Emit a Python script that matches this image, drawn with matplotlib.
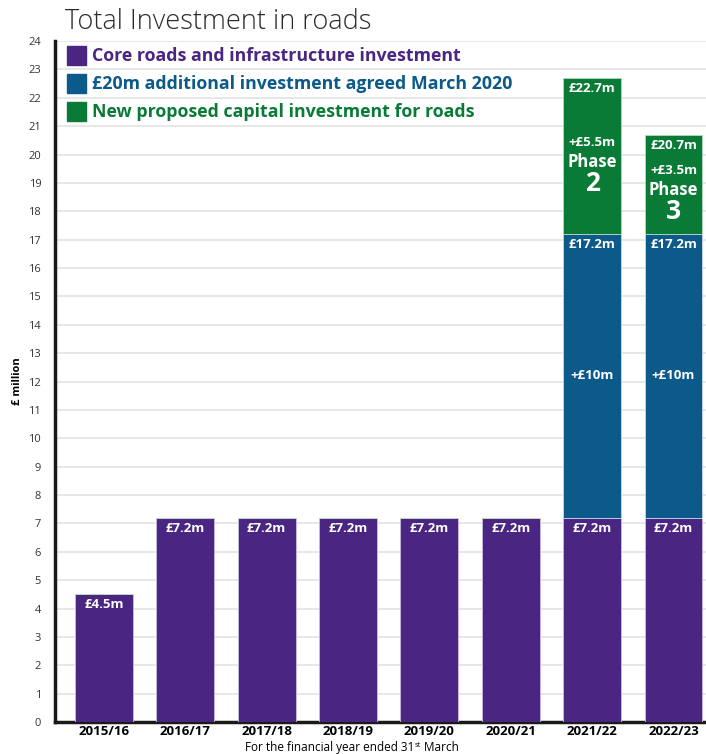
import matplotlib.pyplot as plt
import numpy as np

# Data
years = ["2015/16", "2016/17", "2017/18", "2018/19", "2019/20", "2020/21", "2021/22", "2022/23"]
core = [4.5, 7.2, 7.2, 7.2, 7.2, 7.2, 7.2, 7.2]
additional = [0, 0, 0, 0, 0, 0, 10, 10]
new_capital = [0, 0, 0, 0, 0, 0, 5.5, 3.5]
phases = {6: "2", 7: "3"}

purple = "#4a2682"
blue = "#0b5a8a"
green = "#0a7b36"

plt.rcParams['font.family'] = ['Open Sans', 'DejaVu Sans']

fig = plt.figure(figsize=(7.06, 7.54), dpi=100)
ax = fig.add_axes([0.078, 0.0424, 0.922, 0.9032])

x = np.arange(len(years))
w = 0.71
core = np.array(core)
additional = np.array(additional)
new_capital = np.array(new_capital)

ax.bar(x, core, w, color=purple, edgecolor="#c9bde0", linewidth=0.6, zorder=3)
ax.bar(x, additional, w, bottom=core, color=blue, edgecolor="#c9d6e6", linewidth=0.6, zorder=3)
ax.bar(x, new_capital, w, bottom=core + additional, color=green, edgecolor="#b8d8c0", linewidth=0.6, zorder=3)

lab = dict(color="white", fontweight="bold", ha="center", va="center", zorder=5)
for i in x:
    ax.text(i, core[i] - 0.37, f"£{core[i]:.1f}m", fontsize=9.5, **lab)
    if additional[i] > 0:
        top = core[i] + additional[i]
        ax.text(i, top - 0.37, f"£{top:.1f}m", fontsize=9.5, **lab)
        ax.text(i, core[i] + additional[i] / 2, f"+£{additional[i]:.0f}m", fontsize=9.5, **lab)
    if new_capital[i] > 0:
        bot = core[i] + additional[i]
        top = bot + new_capital[i]
        mid = (bot + top) / 2 - 0.25
        ax.text(i, top - 0.37, f"£{top:.1f}m", fontsize=9.5, **lab)
        ax.text(i, mid + 0.72, f"+£{new_capital[i]:.1f}m", fontsize=9.5, **lab)
        ax.text(i, mid + 0.05, "Phase", fontsize=12, **lab)
        ax.text(i, mid - 0.72, phases[i], fontsize=19, **lab)

ax.set_xlim(-0.6, 7.4)
ax.set_ylim(0, 24)
ax.set_yticks(range(0, 25))
ax.set_xticks(x)
ax.set_xticklabels(years, fontweight="bold", fontsize=9.5)
ax.tick_params(axis="y", labelsize=8, length=0, pad=10, labelcolor="#333333")
ax.tick_params(axis="x", length=0, pad=2)
ax.grid(axis="y", color="#e3e3e3", linewidth=1.2, zorder=0)

for s in ["top", "right"]:
    ax.spines[s].set_visible(False)
for s in ["left", "bottom"]:
    ax.spines[s].set_linewidth(2.5)
    ax.spines[s].set_color("#1a1a1a")

ax.set_ylabel("£ million", fontweight="bold", fontsize=8, labelpad=4)

# x label with a small raised "st", built from three texts
fig.canvas.draw()
r = fig.canvas.get_renderer()
base_y = 1 - 751 / 754
parts = [("For the financial year ended 31", 8.5, 0), ("st", 5.5, 4 / 754), (" March", 8.5, 0)]
items = [fig.text(0, base_y + dy, s, fontsize=fs, va="baseline", ha="left") for s, fs, dy in parts]
widths = [t.get_window_extent(r).width for t in items]
xpos = 352 - sum(widths) / 2
for t, wd in zip(items, widths):
    t.set_x(xpos / 706)
    xpos += wd

fig.text(65 / 706, 1 - 22 / 754, "Total Investment in roads", fontsize=19.5, fontweight="light",
         color="#2a2a2a", va="center", ha="left")

# Legend, drawn as squares with coloured text
legend_items = [("Core roads and infrastructure investment", purple),
                ("£20m additional investment agreed March 2020", blue),
                ("New proposed capital investment for roads", green)]
for k, (txt, col) in enumerate(legend_items):
    yy = 1 - (56 + 28 * k) / 754
    fig.patches.append(plt.Rectangle((67 / 706, yy - 9 / 754), 19 / 706, 19 / 754,
                                     transform=fig.transFigure, color=col, figure=fig))
    fig.text(92 / 706, yy, txt, fontsize=12.8, fontweight="bold", color=col, va="center", ha="left")

fig.savefig("out.png", dpi=100)
